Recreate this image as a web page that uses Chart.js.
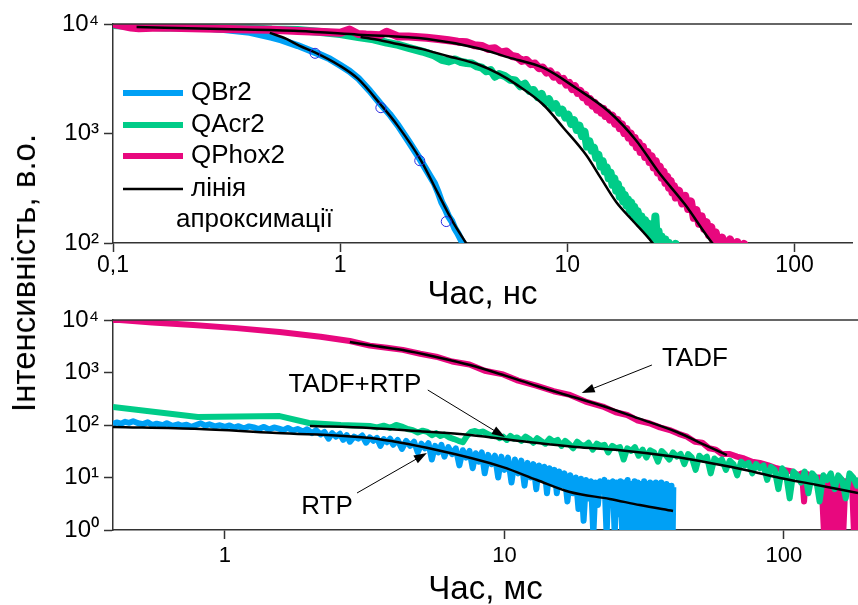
<!DOCTYPE html>
<html>
<head>
<meta charset="utf-8">
<title>Intensity decay</title>
<script src="https://cdn.jsdelivr.net/npm/chart.js@4.4.1/dist/chart.umd.min.js"></script>
<style>
  html, body { margin: 0; padding: 0; background: #fff; overflow: hidden; }
  #page { position: relative; width: 858px; height: 605px; }
  canvas { position: absolute; left: 0; }
  #chartNs { top: 0; }
  #chartMs { top: 290px; }
  #yTitle { position: absolute; left: 24px; top: 273px; transform: translate(-50%, -50%) rotate(-90deg);
    font: 33px "Liberation Sans", Arial, sans-serif; color: #000; white-space: nowrap; }
</style>
</head>
<body>
<div id="page">
  <canvas id="chartNs" width="858" height="315"></canvas>
  <canvas id="chartMs" width="858" height="320"></canvas>
  <div id="yTitle">Інтенсивність, в.о.</div>
</div>
<script>
const FONT = '"Liberation Sans", Arial, sans-serif';
const BLUE = '#00a0f5';
const GREEN = '#00cc88';
const MAGENTA = '#e8087e';
const AXIS = '#333';

// upper panel, time in ns
const nsTicks = [0.1, 1, 10, 100];
const nsTickLabels = ['0,1', '1', '10', '100'];
const nsYTicks = [100, 1000, 10000];
const nsYTickLabels = ['10²', '10³', '10⁴'];

const qbr2X = [0.1, 0.13, 0.16, 0.2, 0.24, 0.3, 0.4, 0.5, 0.55, 0.65, 0.8, 0.9, 1.0, 1.1, 1.2, 1.35, 1.5, 1.65, 1.8, 2.0, 2.25, 2.5, 2.6, 2.7, 2.8, 2.9, 3.0, 3.1, 3.2, 3.3, 3.4, 3.5, 3.7];
const qbr2Y = [10000, 9750, 9600, 9450, 9300, 8950, 8400, 7550, 7150, 6350, 5350, 4800, 4200, 3700, 3200, 2450, 1880, 1500, 1180, 850, 580, 400, 350, 290, 235, 205, 175, 158, 135, 122, 108, 96, 78];
const qbr2FitX = [0.49, 0.58, 0.66, 0.79, 0.98, 1.2, 1.51, 1.79, 2.26, 2.68, 3.11, 3.58, 3.8];
const qbr2FitY = [8300, 7300, 6350, 5400, 4250, 3150, 1830, 1180, 575, 290, 160, 100, 82];
const qbr2CircleX = [0.775, 1.51, 2.24, 2.93];
const qbr2CircleY = [5400, 1720, 565, 157];

const qacr2X = [0.1, 0.13, 0.17, 0.22, 0.3, 0.4, 0.5, 0.65, 0.8, 1.0,
  1.2, 1.4, 1.6, 1.8, 2.0, 2.3, 2.6, 2.8, 3.0, 3.2,
  3.4, 3.6, 3.8, 4.0, 4.2, 4.4, 4.6, 4.8, 5.0, 5.3,
  5.6, 5.9, 6.2, 6.5, 6.8, 7.1, 7.4, 7.7, 8.0, 8.3,
  8.6, 8.9, 9.2, 9.5, 9.8, 10.1, 10.4, 10.7, 11.0, 11.3,
  11.6, 11.9, 12.2, 12.5, 12.8, 13.1, 13.4, 13.7, 14.0, 14.3,
  14.6, 14.9, 15.2, 15.5, 15.8, 16.1, 16.4, 16.7, 17.0, 17.3,
  17.6, 17.9, 18.2, 18.5, 18.8, 19.1, 19.4, 19.7, 20.0, 20.4,
  20.8, 21.2, 21.6, 22.0, 22.4, 22.8, 23.2, 23.6, 24.0, 24.4,
  24.8, 25.2, 25.6, 26.0, 26.5, 27.0, 27.5, 28.0, 29, 30,
  31, 33, 34];
const qacr2Y = [9800, 9500, 9300, 9350, 9100, 9150, 8900, 8800, 8500, 8100,
  7600, 7250, 6750, 6450, 6050, 5600, 5150, 4700, 4550, 4750,
  4500, 4400, 4350, 4100, 4000, 3700, 3800, 3300, 3500, 3350,
  3100, 3050, 2700, 2850, 2450, 2500, 2150, 2300, 1900, 2050,
  1720, 1850, 1550, 1650, 1400, 1480, 1220, 1320, 1080, 1180,
  950, 1040, 760, 850, 700, 740, 600, 640, 500, 560,
  450, 490, 390, 440, 340, 390, 300, 345, 265, 305,
  240, 275, 220, 250, 200, 235, 185, 215, 165, 195,
  150, 175, 140, 162, 128, 150, 118, 138, 108, 175,
  102, 128, 95, 115, 90, 108, 86, 100, 84, 98,
  80, 88, 70];
const qacr2FitX = [1.23, 1.5, 1.79, 2.3, 2.96, 4.0, 5.0, 6.0, 7.86, 9.6, 12.1, 14.0, 16.4, 19.5, 23.7, 25];
const qacr2FitY = [7600, 7100, 6560, 5900, 5100, 4310, 3500, 2780, 1820, 1130, 636, 395, 237, 158, 100, 85];

const qphox2X = [0.1, 0.12, 0.13, 0.16, 0.2, 0.25, 0.32, 0.4, 0.5, 0.65,
  0.8, 1.0, 1.1, 1.2, 1.3, 1.5, 1.6, 1.8, 2.0, 2.4,
  2.7, 3.0, 3.3, 3.6, 3.9, 4.2, 4.5, 4.8, 5.1, 5.4,
  5.7, 6.0, 6.3, 6.6, 6.9, 7.2, 7.5, 7.8, 8.1, 8.4,
  8.7, 9.0, 9.3, 9.6, 9.9, 10.2, 10.5, 10.8, 11.1, 11.4,
  11.7, 12.0, 12.3, 12.6, 12.9, 13.2, 13.5, 13.8, 14.1, 14.4,
  14.7, 15.0, 15.4, 15.8, 16.2, 16.6, 17.0, 17.4, 17.8, 18.2,
  18.6, 19.0, 19.4, 19.8, 20.2, 20.6, 21.0, 21.5, 22.0, 22.5,
  23.0, 23.5, 24.0, 24.5, 25.0, 25.5, 26.0, 26.5, 27.0, 27.5,
  28.0, 28.5, 29.0, 29.5, 30, 31, 32, 33, 34, 35,
  36, 37, 38, 39, 40, 41, 42, 43, 44, 45,
  46, 48, 50, 52, 54, 56, 58, 60, 62];
const qphox2Y = [10000, 9300, 9150, 9300, 9200, 9100, 9000, 8900, 8850, 8650,
  8500, 8300, 8900, 8100, 8000, 7900, 8500, 7700, 7700, 7500,
  7300, 7100, 6900, 6800, 6400, 6300, 5900, 6000, 5500, 5600,
  5100, 5000, 4600, 4700, 4300, 4350, 3950, 4000, 3600, 3700,
  3300, 3400, 3050, 3150, 2800, 2900, 2550, 2700, 2350, 2450,
  2150, 2250, 1950, 2050, 1800, 1900, 1650, 1750, 1550, 1680,
  1450, 1560, 1340, 1450, 1230, 1330, 1120, 1210, 1010, 1100,
  920, 1000, 830, 910, 750, 830, 680, 760, 610, 680,
  550, 620, 490, 560, 440, 500, 395, 450, 355, 405,
  320, 370, 290, 330, 260, 300, 230, 270, 205, 240,
  170, 200, 150, 175, 135, 155, 118, 140, 105, 125,
  96, 112, 90, 108, 88, 102, 86, 98, 84];
const qphox2FitX = [0.127, 0.3, 0.656, 1.2, 2.42, 4.0, 5.5, 7.86, 10.9, 15.3, 20.0, 25.2, 33.1, 43.4, 46];
const qphox2FitY = [9390, 9000, 8630, 7980, 7300, 6040, 4955, 3966, 2604, 1572, 873, 445, 222, 100, 88];

const legendNames = ['QBr2', 'QAcr2', 'QPhox2', 'лінія'];
const legendNote = 'апроксимації';

// lower panel, time in ms
const msTicks = [1, 10, 100];
const msTickLabels = ['1', '10', '100'];
const msYTicks = [1, 10, 100, 1000, 10000];
const msYTickLabels = ['10⁰', '10¹', '10²', '10³', '10⁴'];

const tadfX = [0.398, 0.42, 0.55, 0.77, 1.1, 1.57, 2.2, 2.8, 3.3, 3.8,
  4.33, 5.0, 5.7, 6.5, 7.5, 8.5, 9.9, 11.2, 13, 15,
  17, 19.5, 22.5, 25, 27.5, 30, 33, 36, 39, 42,
  45, 48, 51, 54, 57, 60, 64, 68, 72, 77,
  82, 88, 94, 100, 107, 112, 116, 118, 120, 124,
  130, 136, 139, 141, 144, 147, 149, 152, 155, 158,
  161, 163, 166, 170, 175, 178, 180, 184];
const tadfY = [10000, 10000, 9000, 8000, 7000, 5900, 4800, 3980, 3250, 2950,
  2700, 2280, 2000, 1620, 1420, 1080, 920, 700, 560, 440,
  380, 280, 225, 175, 155, 122, 108, 90, 80, 68,
  60, 48, 46, 36, 34, 28, 28, 25, 23, 20,
  19, 17, 15, 14, 13, 11, 12, 3.5, 12, 11,
  10, 10, 0.9, 0.9, 9, 0.9, 9, 0.9, 9, 0.9,
  9, 0.9, 8.5, 8, 8, 0.9, 0.9, 7];
const tadfFitX = [2.8, 3.5, 4.33, 5.7, 7.53, 10, 13.07, 17, 22.5, 30, 41.4, 52, 62.5];
const tadfFitY = [3810, 3150, 2683, 1980, 1389, 880, 553, 360, 230, 135, 73.6, 42, 26.8];

const tadfRtpX = [0.398, 0.8, 1.57, 2.0, 2.6, 3.3, 3.5, 3.7, 3.9, 4.1,
  4.33, 4.5, 4.7, 4.9, 5.1, 5.3, 5.5, 5.7, 5.9, 6.1,
  6.35, 6.6, 6.85, 7.1, 7.35, 7.6, 7.85, 8.1, 8.4, 8.7,
  9.0, 9.3, 9.6, 9.9, 10.2, 10.5, 10.8, 11.1, 11.5, 11.9,
  12.3, 12.7, 13.1, 13.5, 14.0, 14.5, 15.0, 15.5, 16.0, 16.5,
  17.0, 17.6, 18.2, 18.8, 19.4, 20.0, 20.7, 21.4, 22.1, 22.8,
  23.5, 24.3, 25.1, 25.9, 26.7, 27.5, 28.4, 29.3, 30.2, 31.2,
  32.2, 33.2, 34.3, 35.4, 36.5, 37.7, 38.9, 40.1, 41.4, 42.7,
  44.0, 45.4, 46.8, 48.3, 49.8, 51.4, 53.0, 54.7, 56.4, 58.2,
  60.0, 62.0, 64.0, 66.0, 68.0, 70.2, 72.4, 74.7, 77.0, 79.4,
  81.9, 84.5, 87.1, 89.8, 92.6, 95.5, 98.5, 101.6, 104.8, 108.1,
  111.5, 115.0, 118.6, 122.3, 126.1, 130.0, 134.1, 138.3, 142.6, 147.1,
  151.7, 156.4, 161.3, 166.3, 171.5, 176.9, 182.4, 184];
const tadfRtpY = [220, 142, 148, 109, 100, 96, 90, 97, 88, 100,
  92, 84, 80, 72, 78, 74, 64, 70, 62, 66,
  58, 54, 50, 47, 62, 74, 77, 72, 75, 68,
  62, 66, 56, 60, 52, 62, 55, 58, 50, 60,
  54, 46, 56, 50, 44, 55, 48, 52, 40, 50,
  44, 36, 48, 42, 40, 46, 34, 44, 40, 42,
  30, 40, 36, 38, 22, 36, 32, 38, 26, 34,
  24, 33, 30, 20, 32, 27, 22, 30, 25, 28,
  18, 28, 24, 14, 26, 22, 25, 12, 23, 20,
  22, 14, 21, 18, 11, 20, 17, 19, 12, 18,
  15, 17, 9, 16, 14, 6, 15, 12, 4, 13,
  11, 8, 13, 5, 12, 10, 3.5, 11, 9, 12,
  6, 11, 9, 4, 12, 10, 7, 10];
const tadfRtpFitX = [2.014, 3.3, 5.0, 7.53, 12, 18, 25.9, 40, 54.4, 75, 96.8, 130, 184];
const tadfRtpFitY = [95.7, 87.7, 76, 64.5, 48, 38, 33, 25, 18.9, 13.5, 9.8, 7.3, 5.07];

const rtpX = [0.398, 0.41, 0.425, 0.44, 0.455, 0.47, 0.49, 0.51, 0.53, 0.55,
  0.57, 0.6, 0.62, 0.65, 0.68, 0.7, 0.73, 0.76, 0.79, 0.82,
  0.85, 0.88, 0.92, 0.96, 1.0, 1.04, 1.08, 1.12, 1.17, 1.22,
  1.27, 1.32, 1.38, 1.44, 1.5, 1.56, 1.62, 1.68, 1.75, 1.82,
  1.9, 1.97, 2.05, 2.12, 2.2, 2.27, 2.35, 2.42, 2.5, 2.58,
  2.65, 2.73, 2.8, 2.9, 3.0, 3.1, 3.2, 3.3, 3.4, 3.5,
  3.6, 3.7, 3.8, 3.9, 4.0, 4.15, 4.3, 4.45, 4.6, 4.75,
  4.9, 5.05, 5.2, 5.35, 5.5, 5.65, 5.8, 5.95, 6.1, 6.3,
  6.5, 6.7, 6.9, 7.1, 7.3, 7.5, 7.7, 7.9, 8.1, 8.3,
  8.5, 8.75, 9.0, 9.25, 9.5, 9.75, 10, 10.3, 10.6, 10.9,
  11.2, 11.5, 11.8, 12.1, 12.4, 12.7, 13.0, 13.3, 13.6, 13.9,
  14.2, 14.5, 14.8, 15.1, 15.4, 15.7, 16.0, 16.4, 16.8, 17.2,
  17.6, 18.0, 18.4, 18.8, 19.2, 19.6, 20.0, 20.4, 20.8, 21.2,
  21.6, 22.0, 22.4, 22.8, 23.2, 23.6, 24.0, 24.4, 24.8, 25.2,
  25.6, 26.0, 26.4, 26.8, 27.2, 27.6, 28.0, 28.4, 28.8, 29.2,
  29.6, 30.0, 30.4, 30.8, 31.2, 31.6, 32.0, 32.4, 32.8, 33.2,
  33.6, 34.0, 34.4, 34.8, 35.2, 35.6, 36.0, 36.4, 36.8, 37.2,
  37.6, 38.0, 38.4, 38.8, 39.2, 39.6, 40.0, 40.2];
const rtpY = [105, 112, 106, 115, 110, 118, 108, 104, 113, 100,
  106, 99, 108, 96, 103, 97, 101, 92, 100, 108,
  97, 103, 94, 99, 92, 98, 89, 95, 86, 94,
  90, 84, 92, 82, 90, 85, 80, 88, 78, 84,
  75, 83, 70, 80, 66, 74, 55, 70, 60, 68,
  52, 64, 48, 60, 55, 63, 46, 58, 50, 57,
  40, 54, 47, 55, 42, 52, 35, 50, 40, 48,
  30, 44, 36, 45, 22, 40, 30, 42, 25, 38,
  28, 36, 17, 33, 24, 32, 15, 29, 20, 30,
  12, 27, 18, 26, 10, 25, 14, 24, 8, 22,
  12, 21, 7, 19, 10, 18, 6, 17, 9, 16,
  5, 15, 8, 14, 5, 13, 7, 12, 3.5, 11,
  5, 10, 2.5, 9.5, 1.5, 9, 4, 8.5, 0.8, 8,
  3, 8.5, 6, 9, 0.8, 8, 5, 8.5, 0.8, 8,
  2, 8.5, 0.8, 8, 0.8, 9, 0.8, 7.5, 0.8, 8.5,
  0.8, 8, 0.8, 7.5, 0.8, 8.5, 0.8, 7.5, 0.8, 8,
  0.8, 7.5, 0.8, 8, 0.8, 7.5, 0.8, 8, 0.8, 7,
  0.8, 7.5, 0.8, 7, 0.8, 7, 0.8, 6.5];
const rtpFitX = [0.398, 0.814, 1.535, 3.3, 5.73, 9.88, 13.07, 17.15, 23.8, 30.5, 40.1];
const rtpFitY = [91.6, 83.9, 70.4, 56.5, 33.4, 15.8, 8.96, 5.29, 3.9, 2.99, 2.3];

// annotations of the lower panel, in data units
const noteTexts = ['TADF', 'TADF+RTP', 'RTP'];
const noteX = [48, 2.92, 2.32];
const noteY = [1807, 578, 2.74];
const arrowFromX = [33.7, 5.32, 2.97];
const arrowFromY = [1389, 464, 5.07];
const arrowToX = [18.9, 10.04, 5.28];
const arrowToY = [407, 59, 29.3];

function pts(xs, ys) {
  return xs.map((x, i) => ({ x: x, y: ys[i] }));
}

function dataLine(xs, ys, color, width, order) {
  return { data: pts(xs, ys), borderColor: color, borderWidth: width, pointRadius: 0, tension: 0,
    borderJoinStyle: 'round', clip: 0, order: order };
}

function fitLine(xs, ys, order) {
  return { data: pts(xs, ys), borderColor: '#000', borderWidth: 2.5, pointRadius: 0,
    cubicInterpolationMode: 'monotone', clip: 0, order: order };
}

function logAxis(min, max, ticks, labels, size, pad, fit, horizontal, title) {
  const axis = {
    type: 'logarithmic', min: min, max: max,
    afterBuildTicks: (s) => { s.ticks = ticks.map(v => ({ value: v })); },
    afterFit: (s) => { if (horizontal) s.height = fit; else s.width = fit; },
    ticks: { autoSkip: false, maxRotation: 0, padding: pad, color: '#000',
      font: { family: FONT, size: size }, callback: (v, i) => labels[i] },
    grid: { drawOnChartArea: false, drawTicks: true, tickLength: 9, tickColor: AXIS, tickWidth: 1.5 },
    border: { display: true, color: AXIS, width: 1.5 }
  };
  if (title) {
    axis.title = { display: true, text: title, color: '#000', font: { family: FONT, size: 33 }, padding: 0 };
  }
  return axis;
}

const topFrame = {
  id: 'topFrame',
  afterDraw(chart) {
    const a = chart.chartArea, ctx = chart.ctx;
    ctx.save();
    ctx.strokeStyle = AXIS;
    ctx.lineWidth = 1.5;
    ctx.beginPath();
    ctx.moveTo(a.left, a.top);
    ctx.lineTo(a.right, a.top);
    ctx.stroke();
    ctx.restore();
  }
};

const nsLegend = {
  id: 'nsLegend',
  afterDatasetsDraw(chart) {
    const a = chart.chartArea, ctx = chart.ctx;
    const colors = [BLUE, GREEN, MAGENTA, '#000'];
    const widths = [6, 6, 6, 2.5];
    const rows = [69, 101, 132, 165];
    ctx.save();
    ctx.font = '26px ' + FONT;
    ctx.textBaseline = 'middle';
    ctx.fillStyle = '#000';
    legendNames.forEach((name, i) => {
      const y = a.top + rows[i];
      ctx.strokeStyle = colors[i];
      ctx.lineWidth = widths[i];
      ctx.beginPath();
      ctx.moveTo(a.left + 10, y);
      ctx.lineTo(a.left + 70, y);
      ctx.stroke();
      ctx.fillText(name, a.left + 78, y);
    });
    ctx.fillText(legendNote, a.left + 63, a.top + 196);
    ctx.restore();
  }
};

const msArrows = {
  id: 'msArrows',
  afterDatasetsDraw(chart) {
    const xs = chart.scales.x, ys = chart.scales.y, ctx = chart.ctx;
    ctx.save();
    ctx.font = '26px ' + FONT;
    ctx.textAlign = 'center';
    ctx.textBaseline = 'middle';
    ctx.fillStyle = '#000';
    ctx.strokeStyle = '#000';
    noteTexts.forEach((t, i) => {
      ctx.fillText(t, xs.getPixelForValue(noteX[i]), ys.getPixelForValue(noteY[i]));
      const x1 = xs.getPixelForValue(arrowFromX[i]), y1 = ys.getPixelForValue(arrowFromY[i]);
      const x2 = xs.getPixelForValue(arrowToX[i]), y2 = ys.getPixelForValue(arrowToY[i]);
      const ang = Math.atan2(y2 - y1, x2 - x1);
      ctx.lineWidth = 1;
      ctx.beginPath();
      ctx.moveTo(x1, y1);
      ctx.lineTo(x2 - 10 * Math.cos(ang), y2 - 10 * Math.sin(ang));
      ctx.stroke();
      ctx.beginPath();
      ctx.moveTo(x2, y2);
      ctx.lineTo(x2 - 13 * Math.cos(ang) + 4.5 * Math.sin(ang), y2 - 13 * Math.sin(ang) - 4.5 * Math.cos(ang));
      ctx.lineTo(x2 - 13 * Math.cos(ang) - 4.5 * Math.sin(ang), y2 - 13 * Math.sin(ang) + 4.5 * Math.cos(ang));
      ctx.closePath();
      ctx.fill();
    });
    ctx.restore();
  }
};

new Chart(document.getElementById('chartNs'), {
  type: 'line',
  data: {
    datasets: [
      { data: pts(qbr2CircleX, qbr2CircleY), showLine: false, pointRadius: 5, pointBorderColor: '#2a2ae0',
        pointBorderWidth: 1, pointBackgroundColor: 'rgba(0,0,0,0)', clip: 0, order: 0 },
      fitLine(qbr2FitX, qbr2FitY, 1),
      fitLine(qacr2FitX, qacr2FitY, 1),
      fitLine(qphox2FitX, qphox2FitY, 1),
      dataLine(qphox2X, qphox2Y, MAGENTA, 8, 2),
      dataLine(qacr2X, qacr2Y, GREEN, 8, 3),
      dataLine(qbr2X, qbr2Y, BLUE, 7, 4)
    ]
  },
  options: {
    responsive: false,
    animation: false,
    devicePixelRatio: 1,
    layout: { padding: { top: 24, right: 0, bottom: 0, left: 0 } },
    plugins: { legend: { display: false }, tooltip: { enabled: false } },
    scales: {
      x: logAxis(0.1, 179, nsTicks, nsTickLabels, 23, 0, 72, true, 'Час, нс'),
      y: logAxis(100, 10000, nsYTicks, nsYTickLabels, 24, 5, 113, false)
    }
  },
  plugins: [topFrame, nsLegend]
});

new Chart(document.getElementById('chartMs'), {
  type: 'line',
  data: {
    datasets: [
      fitLine(rtpFitX, rtpFitY, 0),
      fitLine(tadfRtpFitX, tadfRtpFitY, 0),
      fitLine(tadfFitX, tadfFitY, 0),
      dataLine(rtpX, rtpY, BLUE, 6, 1),
      dataLine(tadfRtpX, tadfRtpY, GREEN, 6, 2),
      dataLine(tadfX, tadfY, MAGENTA, 6, 3)
    ]
  },
  options: {
    responsive: false,
    animation: false,
    devicePixelRatio: 1,
    layout: { padding: { top: 30, right: 0, bottom: 0, left: 0 } },
    plugins: { legend: { display: false }, tooltip: { enabled: false } },
    scales: {
      x: logAxis(0.398, 184, msTicks, msTickLabels, 22, 4, 80, true, 'Час, мс'),
      y: logAxis(1, 10000, msYTicks, msYTickLabels, 24, 5, 113, false)
    }
  },
  plugins: [topFrame, msArrows]
});
</script>
</body>
</html>
